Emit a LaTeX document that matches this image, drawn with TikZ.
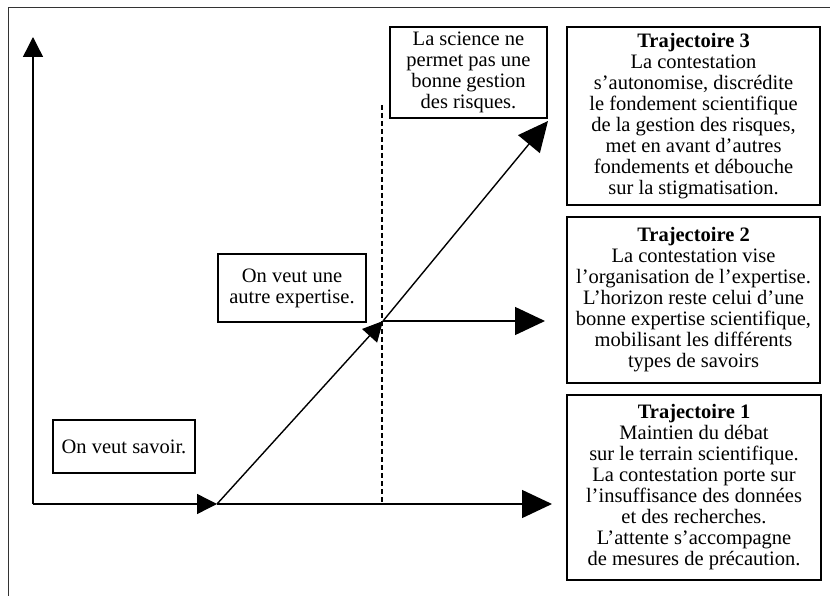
\documentclass[tikz,border=0pt]{standalone}
\usepackage{fontspec}
\setmainfont{Liberation Serif}
\usetikzlibrary{arrows.meta}
\begin{document}
\begin{tikzpicture}[x=1pt,y=-1pt,
  box/.style={draw, line width=1.5pt, inner sep=0pt, align=center,
    font=\fontsize{20.5}{21}\selectfont},
  bigarrow/.style={line width=1.4pt, -{Triangle[length=30pt,width=28pt]}},
  smallarrow/.style={line width=1.4pt, -{Triangle[length=20pt,width=20pt]}},
  plainline/.style={line width=1.4pt},
  dashline/.style={line width=1.2pt, dash pattern=on 5pt off 3pt}]
\useasboundingbox (0,0) rectangle (830,596);
\draw[line width=1pt, black!80] (8,596) -- (8,7.5) -- (830,7.5);

% boxes
\node[box, minimum width=253pt, minimum height=178pt] (t3) at (693.5,116)
  {\textbf{Trajectoire 3}\\La contestation\\s’autonomise, discrédite\\le fondement scientifique\\de la gestion des risques,\\met en avant d’autres\\fondements et débouche\\sur la stigmatisation.};
\node[box, minimum width=253pt, minimum height=166pt] (t2) at (693.5,300)
  {\textbf{Trajectoire 2}\\La contestation vise\\l’organisation de l’expertise.\\L’horizon reste celui d’une\\bonne expertise scientifique,\\mobilisant les différents\\types de savoirs};
\node[box, minimum width=254pt, minimum height=185pt] (t1) at (694,487.5)
  {\textbf{Trajectoire 1}\\Maintien du débat\\sur le terrain scientifique.\\La contestation porte sur\\l’insuffisance des données\\et des recherches.\\L’attente s’accompagne\\de mesures de précaution.};
\node[box, minimum width=157pt, minimum height=91pt] (sci) at (468.5,72.5)
  {La science ne\\permet pas une\\bonne gestion\\des risques.};
\node[box, minimum width=148pt, minimum height=68pt] (exp) at (292,288)
  {On veut une\\autre expertise.};
\node[box, minimum width=142pt, minimum height=53pt] (sav) at (124,446.5)
  {On veut savoir.};

% coordinates
\coordinate (O) at (33,504);
\coordinate (Y) at (33,37);
\coordinate (A) at (217,504);
\coordinate (B) at (383,321);
\coordinate (C) at (548,121);
\coordinate (X1) at (552,504);
\coordinate (X2) at (545,321);
\coordinate (D1) at (382,105);
\coordinate (D2) at (382,504);

% dashed divider
\draw[dashline] (D1) -- (D2);

% axes and trajectories
\draw[smallarrow] (O) -- (Y);
\draw[smallarrow] (O) -- (A);
\draw[bigarrow] (A) -- (X1);
\draw[smallarrow] (A) -- (B);
\draw[bigarrow] (B) -- (C);
\draw[bigarrow] (B) -- (X2);
\end{tikzpicture}
\end{document}
